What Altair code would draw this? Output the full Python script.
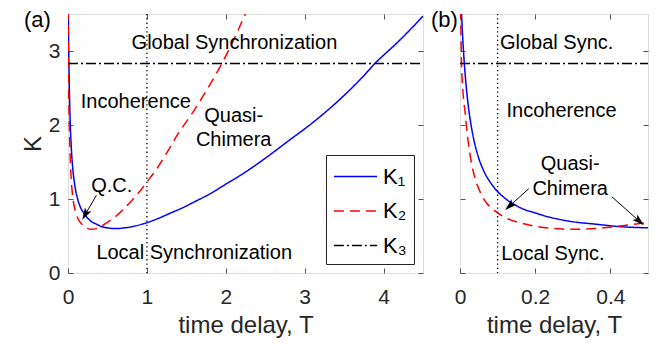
import math
import altair as alt
import pandas as pd

# ---------------- data ----------------
T1 = [0.002, 0.004, 0.007, 0.0115, 0.016, 0.022, 0.03, 0.04, 0.05, 0.065, 0.08, 0.1,
      0.115, 0.13, 0.15, 0.17, 0.195, 0.22, 0.29, 0.36, 0.43, 0.5, 0.6, 0.72, 0.85,
      1.0, 1.15, 1.3, 1.45, 1.6, 1.8, 2.0, 2.2, 2.5, 2.8, 3.1, 3.46, 3.7, 3.88,
      4.2, 4.5]
K1 = [3.78, 3.52, 3.20, 2.83, 2.55, 2.26, 1.98, 1.73, 1.55, 1.36, 1.23, 1.10,
      1.03, 0.97, 0.91, 0.86, 0.82, 0.78, 0.70, 0.66, 0.625, 0.61, 0.60, 0.61, 0.635,
      0.68, 0.74, 0.81, 0.88, 0.96, 1.07, 1.20, 1.33, 1.55, 1.79, 2.03, 2.36, 2.61, 2.82,
      3.14, 3.47]

T2 = [0.001, 0.002, 0.004, 0.008, 0.014, 0.02, 0.03, 0.04, 0.055, 0.07, 0.09, 0.12,
      0.17, 0.24, 0.3, 0.36, 0.42, 0.5, 0.6, 0.7, 0.8, 0.9, 1.0, 1.1, 1.25, 1.4,
      1.55, 1.7, 1.85, 1.95, 2.1, 2.24, 2.35]
K2 = [4.0, 3.5, 2.83, 2.45, 2.15, 1.85, 1.5, 1.28, 1.08, 0.95, 0.85, 0.75,
      0.665, 0.605, 0.59, 0.60, 0.63, 0.685, 0.76, 0.86, 0.97, 1.09, 1.23, 1.37, 1.62, 1.89,
      2.12, 2.37, 2.64, 2.83, 3.15, 3.48, 3.72]

T3 = [0.0, 4.5]
K3 = [2.83, 2.83]

SERIES = ["K\u2081", "K\u2082", "K\u2083"]

# annotation texts (data coordinates)
TEXT_A_T = [2.11, 0.86, 2.10, 2.10, 0.555, 1.6]
TEXT_A_K = [3.03, 2.23, 2.04, 1.72, 1.09, 0.185]
TEXT_A_S = ["Global Synchronization", "Incoherence", "Quasi-", "Chimera", "Q.C.",
            "Local Synchronization"]
TEXT_B_T = [0.257, 0.27, 0.293, 0.293, 0.247]
TEXT_B_K = [3.03, 2.11, 1.39, 1.05, 0.17]
TEXT_B_S = ["Global Sync.", "Incoherence", "Quasi-", "Chimera", "Local Sync."]

# arrows: start T, start K, end T, end K
ARROW_A = [[0.36, 1.05, 0.18, 0.72]]
ARROW_B = [[0.183, 1.14, 0.12, 0.85], [0.404, 1.03, 0.489, 0.645]]

PANEL_LABELS = ["(a)", "(b)"]

# ---------------- styles ----------------
FONT = "Liberation Sans"
COLORS = ["#0000ff", "#ff0000", "#000000"]
DASHES = [[1, 0], [10, 6], [10, 3, 2, 3]]
YMAX = 3.5
HEIGHT = 259
AXCOL = "#262626"
FRAME = "#555555"
HEAD = 6.0

rows = []
for name, ts, ks in zip(SERIES, [T1, T2, T3], [K1, K2, K3]):
    for t, k in zip(ts, ks):
        rows.append({"T": t, "K": k, "series": name})
lines_df = pd.DataFrame(rows)


def panel(xmax, width, xticks, fmt, vline, texts, arrows, label, label_dx,
          ylabels, legend):
    xs = alt.Scale(domain=[0, xmax], nice=False, zero=False)
    ys = alt.Scale(domain=[0, YMAX], nice=False, zero=False)
    sx = width / xmax
    sy = HEIGHT / YMAX

    if legend:
        leg = alt.Legend(title=None, orient="bottom-right", offset=9,
                         strokeColor=AXCOL, fillColor="white", padding=7,
                         symbolType="M-1.6,0L1.6,0", symbolSize=729,
                         symbolOffset=8, symbolStrokeWidth=1.5,
                         symbolFillColor="transparent",
                         labelFont=FONT, labelFontSize=22, labelColor="black",
                         rowPadding=8.5, labelOffset=13)
    else:
        leg = None

    bottom = alt.Axis(orient="bottom", values=xticks, format=fmt,
                      labelFontSize=21, labelColor=AXCOL, labelPadding=13,
                      labelFlush=False, labelOverlap=False,
                      tickSize=5, offset=-5, tickColor=FRAME, domain=False,
                      grid=False, title="time delay, T", titleFontSize=24,
                      titleFontWeight="normal", titleColor=AXCOL, titlePadding=6)
    left = alt.Axis(orient="left", values=[0, 1, 2, 3], labels=ylabels,
                    labelFontSize=21, labelColor=AXCOL, labelPadding=8,
                    labelFlush=False, labelOverlap=False,
                    tickSize=5, offset=-5, tickColor=FRAME, domain=False,
                    grid=False, title="K" if ylabels else None,
                    titleFontSize=24, titleFontWeight="normal",
                    titleColor=AXCOL, titlePadding=3)
    top = alt.Axis(orient="top", values=xticks, labels=False, title=None,
                   tickSize=5, offset=-5, tickColor=FRAME, domain=False,
                   grid=False)
    right = alt.Axis(orient="right", values=[0, 1, 2, 3], labels=False,
                     title=None, tickSize=5, offset=-5, tickColor=FRAME,
                     domain=False, grid=False)

    base = alt.Chart(lines_df)
    lines = base.mark_line(clip=True, strokeWidth=1.5,
                           interpolate="monotone").encode(
        x=alt.X("T:Q", scale=xs, axis=bottom),
        y=alt.Y("K:Q", scale=ys, axis=left),
        color=alt.Color("series:N", scale=alt.Scale(domain=SERIES, range=COLORS),
                        legend=leg),
        strokeDash=alt.StrokeDash("series:N",
                                  scale=alt.Scale(domain=SERIES, range=DASHES),
                                  legend=leg),
    )
    axes2 = base.mark_line(opacity=0, clip=True).encode(
        x=alt.X("T:Q", scale=xs, axis=top),
        y=alt.Y("K:Q", scale=ys, axis=right),
    )

    vdf = pd.DataFrame({"T": [vline]})
    vrule = alt.Chart(vdf).mark_rule(color="black", strokeWidth=1.3,
                                     strokeDash=[1.3, 3]).encode(
        x=alt.X("T:Q", scale=xs, axis=None))

    tT, tK, tS = texts
    tdf = pd.DataFrame({"T": tT, "K": tK, "s": tS})
    txt = alt.Chart(tdf).mark_text(font=FONT, fontSize=20, color="black",
                                   align="center", baseline="alphabetic").encode(
        x=alt.X("T:Q", scale=xs, axis=None),
        y=alt.Y("K:Q", scale=ys, axis=None),
        text="s:N")

    ldf = pd.DataFrame({"s": [label]})
    lab = alt.Chart(ldf).mark_text(font=FONT, fontSize=22, color="black",
                                   align="left", baseline="top",
                                   dx=label_dx, dy=-4).encode(
        x=alt.value(0), y=alt.value(0), text="s:N")

    arows = []
    for ts_, ks_, te, ke in arrows:
        dxp = (te - ts_) * sx
        dyp = -(ke - ks_) * sy
        ln = math.hypot(dxp, dyp)
        ux, uy = dxp / ln, dyp / ln
        ang = math.degrees(math.atan2(ux, -uy)) % 360
        tc = te - HEAD * ux / sx
        kc = ke + HEAD * uy / sy
        arows.append({"ts": ts_, "ks": ks_, "tc": tc, "kc": kc, "ang": ang})
    adf = pd.DataFrame(arows)
    shaft = alt.Chart(adf).mark_rule(color="black", strokeWidth=1).encode(
        x=alt.X("ts:Q", scale=xs, axis=None),
        y=alt.Y("ks:Q", scale=ys, axis=None),
        x2="tc:Q", y2="kc:Q")
    heads = alt.Chart(adf).mark_point(
        shape="M0,-1L-0.62,1L0,0.55L0.62,1Z", filled=True, color="black",
        opacity=1, size=144, strokeWidth=0).encode(
        x=alt.X("tc:Q", scale=xs, axis=None),
        y=alt.Y("kc:Q", scale=ys, axis=None),
        angle=alt.Angle("ang:Q", scale=None))

    return alt.layer(lines, axes2, vrule, txt, shaft, heads, lab).resolve_axis(
        x="independent", y="independent"
    ).properties(width=width, height=HEIGHT)


pa = panel(4.5, 355, [0, 1, 2, 3, 4], "d", 1.0,
           (TEXT_A_T, TEXT_A_K, TEXT_A_S), ARROW_A, PANEL_LABELS[0], -44,
           True, True)
pb = panel(0.5, 188, [0, 0.2, 0.4], ".1~f", 0.1,
           (TEXT_B_T, TEXT_B_K, TEXT_B_S), ARROW_B, PANEL_LABELS[1], -29,
           False, False)

chart = alt.hconcat(pa, pb, spacing=37, bounds="flush").resolve_scale(
    color="independent", strokeDash="independent"
).properties(
    padding={"left": 12, "top": 0, "right": 4, "bottom": 4}
).configure_view(stroke=FRAME, strokeWidth=1.2).configure_axis(
    labelFont=FONT, titleFont=FONT
).configure(background="white")

chart.save("out.html", embed_options={"renderer": "svg", "actions": False})
